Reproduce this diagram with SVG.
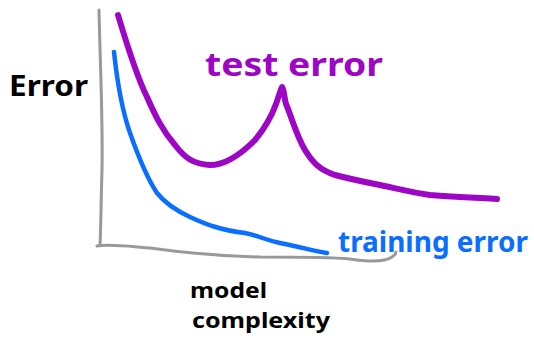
<svg xmlns="http://www.w3.org/2000/svg" width="534" height="345" viewBox="0 0 534 345">
<style>
.c{fill:none;stroke-linecap:round;stroke-linejoin:round}
.axis{stroke:#999999;stroke-width:3}
.test{stroke:#9c06c4;stroke-width:6}
.train{stroke:#0a6eff;stroke-width:4.5}
.t{font-family:"Noto Sans","DejaVu Sans",sans-serif;font-weight:bold}
</style>
<rect width="534" height="345" fill="#ffffff"/>
<g id="connectors">
<path id="y-axis" class="c axis" d="M99,10 C100,60 103,120 102,170 C101,200 101,225 100,245"/>
<path id="x-axis" class="c axis" d="M97,246 C110,244 125,246 150,248 C185,253 215,256 260,257 C300,257 330,257 350,259 C370,262 385,262 392,257 C395,255 396,253 396,252"/>
<path id="training-curve" class="c train" d="M114,52 C117,80 122,110 130,133 C136,150 145,175 157,193 C165,203 175,210 190,217 C205,224 220,230 245,233 C260,236 265,240 280,243 C300,247 315,251 327,253"/>
<path id="test-curve" class="c test" d="M118,15 C124,35 136,75 147,97 C155,115 162,130 175,145 C185,158 193,164 210,165 C225,165 240,155 255,140 C265,128 272,115 276,104 C279,96 281,88 282,87 C284,88 284,97 286,104 C292,118 296,135 305,150 C313,163 320,170 335,175 C350,179 360,181 375,184 C395,188 410,192 430,195 C455,197 480,198 497,199"/>
</g>
<g id="label-error"><text class="t" x="9" y="96" font-size="29" fill="#000000" textLength="79" lengthAdjust="spacingAndGlyphs">Error</text></g>
<g id="label-test-error"><text class="t" x="205" y="76" font-size="33" fill="#9c06c4" textLength="178" lengthAdjust="spacingAndGlyphs">test error</text></g>
<g id="label-training-error"><text class="t" x="338" y="252" font-size="28" fill="#0a6eff" textLength="190" lengthAdjust="spacingAndGlyphs">training error</text></g>
<g id="label-model-complexity">
<text class="t" x="190" y="298" font-size="22" fill="#000000" textLength="77" lengthAdjust="spacingAndGlyphs">model</text>
<text class="t" x="192" y="328" font-size="22" fill="#000000" textLength="138" lengthAdjust="spacingAndGlyphs">complexity</text>
</g>
</svg>
